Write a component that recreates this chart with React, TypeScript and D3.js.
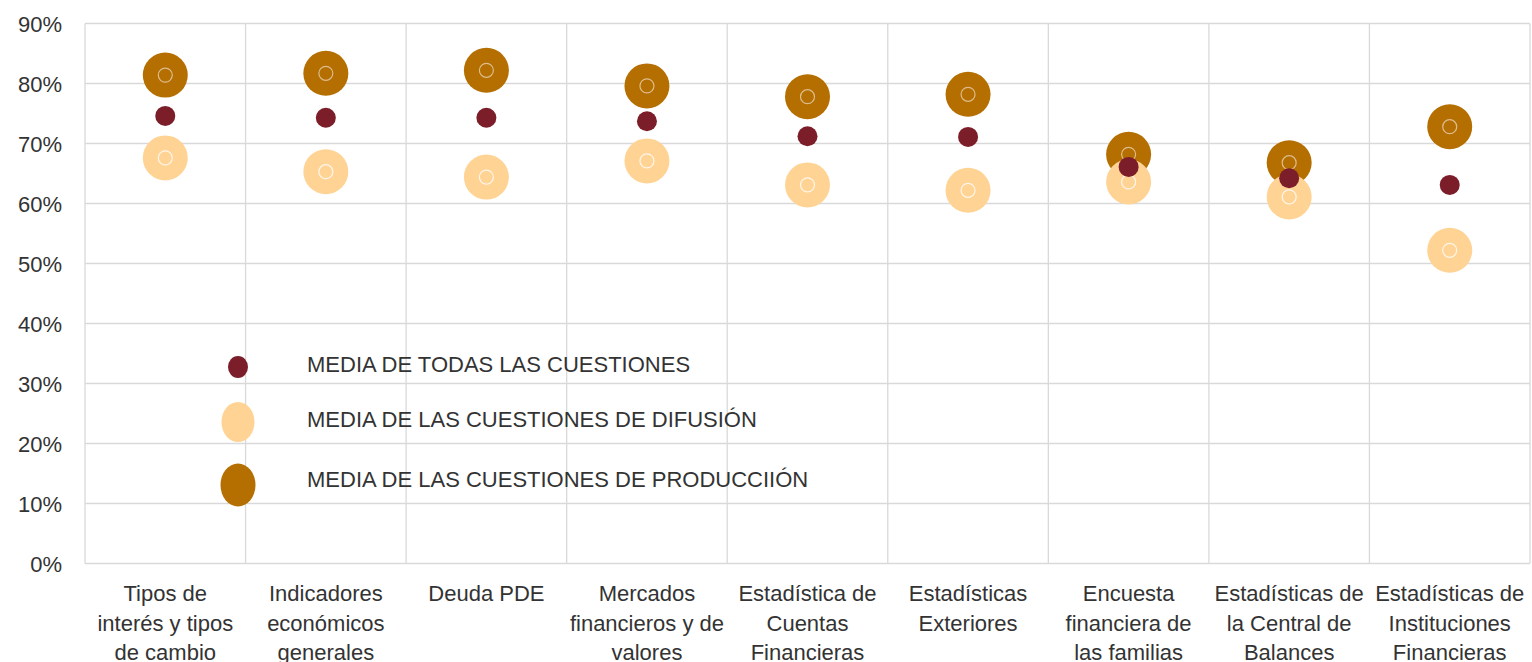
import React from "react";
import * as d3 from "d3";

const categories = [
  "Tipos de interés y tipos de cambio",
  "Indicadores económicos generales",
  "Deuda PDE",
  "Mercados financieros y de valores",
  "Estadística de Cuentas Financieras",
  "Estadísticas Exteriores",
  "Encuesta financiera de las familias",
  "Estadísticas de la Central de Balances",
  "Estadísticas de Instituciones Financieras",
];
const categoryLines = [
  ["Tipos de", "interés y tipos", "de cambio"],
  ["Indicadores", "económicos", "generales"],
  ["Deuda PDE"],
  ["Mercados", "financieros y de", "valores"],
  ["Estadística de", "Cuentas", "Financieras"],
  ["Estadísticas", "Exteriores"],
  ["Encuesta", "financiera de", "las familias"],
  ["Estadísticas de", "la Central de", "Balances"],
  ["Estadísticas de", "Instituciones", "Financieras"],
];
const mediaTodas = [0.746, 0.743, 0.743, 0.737, 0.712, 0.711, 0.661, 0.642, 0.631];
const mediaDifusion = [0.676, 0.653, 0.644, 0.671, 0.631, 0.622, 0.636, 0.611, 0.522];
const mediaProduccion = [0.814, 0.817, 0.822, 0.796, 0.778, 0.782, 0.682, 0.668, 0.728];
const yTicks = [0, 0.1, 0.2, 0.3, 0.4, 0.5, 0.6, 0.7, 0.8, 0.9];
const legendLabels = [
  "MEDIA DE TODAS LAS CUESTIONES",
  "MEDIA DE LAS CUESTIONES DE DIFUSIÓN",
  "MEDIA DE LAS CUESTIONES DE PRODUCCIIÓN",
];

const W = 1532;
const H = 662;
const C_TODAS = "#7b1e2a";
const C_DIF = "#ffd394";
const C_PROD = "#b56e00";
const GRID = "#d9d9d9";
const TEXT = "#333333";
const FONT = "'Liberation Sans', Arial, sans-serif";
const FS = 22;

export default function App() {
  const x = d3.scaleBand<string>().domain(categories).range([85, 1530]).padding(0);
  const y = d3.scaleLinear().domain([0, 0.9]).range([563.5, 23.5]);
  const fmt = d3.format(".0%");
  const cx = (i: number) => (x(categories[i]) as number) + x.bandwidth() / 2;

  const bigR = 22.5;
  const smallR = 10;
  const ringR = 7;

  return (
    <svg
      width={W}
      height={H}
      style={{ position: "fixed", left: 0, top: 0, background: "#fff" }}
      fontFamily={FONT}
    >
      {yTicks.map((t) => (
        <line key={"h" + t} x1={85} x2={1530} y1={y(t)} y2={y(t)} stroke={GRID} strokeWidth={1.3} />
      ))}
      {categories.map((c) => (
        <line key={"v" + c} x1={x(c)} x2={x(c)} y1={y(0.9)} y2={y(0)} stroke={GRID} strokeWidth={1.3} />
      ))}
      <line x1={1530} x2={1530} y1={y(0.9)} y2={y(0)} stroke={GRID} strokeWidth={1.3} />

      {yTicks.map((t) => (
        <text key={"yt" + t} x={62} y={y(t) + 8.2} textAnchor="end" fontSize={FS} fill={TEXT}>
          {fmt(t)}
        </text>
      ))}

      {categoryLines.map((lines, i) => (
        <text key={"cl" + i} x={cx(i)} y={601} textAnchor="middle" fontSize={FS} fill={TEXT}>
          {lines.map((l, j) => (
            <tspan key={j} x={cx(i)} dy={j === 0 ? 0 : 29.5}>
              {l}
            </tspan>
          ))}
        </text>
      ))}

      {mediaProduccion.map((v, i) => (
        <g key={"p" + i}>
          <circle cx={cx(i)} cy={y(v)} r={bigR} fill={C_PROD} />
          <circle cx={cx(i)} cy={y(v)} r={ringR} fill="none" stroke="#fff" strokeOpacity={0.55} strokeWidth={1.2} />
        </g>
      ))}
      {mediaDifusion.map((v, i) => (
        <g key={"d" + i}>
          <circle cx={cx(i)} cy={y(v)} r={bigR} fill={C_DIF} />
          <circle cx={cx(i)} cy={y(v)} r={ringR} fill="none" stroke="#fff" strokeOpacity={0.8} strokeWidth={1.2} />
        </g>
      ))}
      {mediaTodas.map((v, i) => (
        <circle key={"t" + i} cx={cx(i)} cy={y(v)} r={smallR} fill={C_TODAS} />
      ))}

      <ellipse cx={238} cy={367} rx={10} ry={11} fill={C_TODAS} />
      <ellipse cx={238} cy={422} rx={16.5} ry={20} fill={C_DIF} />
      <ellipse cx={238} cy={485} rx={17.5} ry={21.5} fill={C_PROD} />
      {legendLabels.map((l, i) => (
        <text key={"lg" + i} x={307} y={[372, 427, 487][i]} fontSize={FS} fill={TEXT}>
          {l}
        </text>
      ))}
    </svg>
  );
}
